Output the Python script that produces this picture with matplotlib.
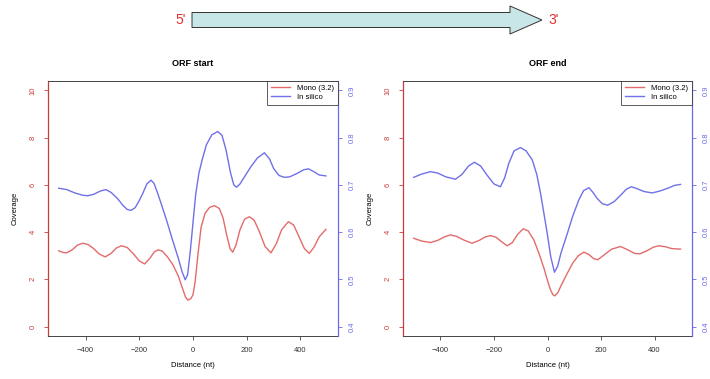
import matplotlib.pyplot as plt
import matplotlib.patches as mpatches

plt.rcParams['font.family'] = ['Liberation Sans', 'DejaVu Sans']

# ORF start: Mono (3.2) coverage (left axis) and In silico (right axis)
start_mono_x = [-500, -485, -470, -450, -430, -410, -390, -370, -350, -327, -305, -285, -267, -245,
                -222, -200, -180, -160, -145, -131, -115, -95, -75, -55, -40, -28, -19, -8, 0, 8,
                18, 30, 45, 62, 80, 98, 112, 125, 138, 148, 160, 175, 192, 210, 228, 248, 268,
                290, 310, 330, 355, 375, 395, 415, 433, 450, 470, 495]
start_mono_y = [3.21, 3.14, 3.12, 3.25, 3.45, 3.53, 3.47, 3.30, 3.08, 2.95, 3.10, 3.33, 3.42, 3.35,
                3.08, 2.78, 2.65, 2.90, 3.15, 3.25, 3.20, 2.95, 2.62, 2.15, 1.65, 1.25, 1.12, 1.18,
                1.35, 1.9, 3.0, 4.2, 4.8, 5.05, 5.12, 5.0, 4.6, 3.9, 3.3, 3.15, 3.45, 4.1, 4.55,
                4.65, 4.5, 4.0, 3.4, 3.12, 3.5, 4.1, 4.44, 4.3, 3.8, 3.3, 3.1, 3.35, 3.8, 4.12]
start_sil_x = [-500, -470, -440, -410, -392, -370, -345, -324, -305, -281, -260, -245, -231, -215,
               -200, -187, -172, -156, -145, -132, -119, -100, -76, -55, -40, -29, -20, -10, 0, 10,
               22, 35, 50, 70, 92, 108, 123, 140, 152, 162, 175, 195, 216, 240, 266, 285, 300,
               320, 340, 360, 390, 412, 430, 450, 470, 495]
start_sil_y = [0.693, 0.690, 0.683, 0.678, 0.677, 0.680, 0.687, 0.690, 0.684, 0.671, 0.656, 0.648,
               0.646, 0.652, 0.667, 0.682, 0.702, 0.710, 0.703, 0.683, 0.661, 0.628, 0.583, 0.545,
               0.515, 0.499, 0.510, 0.560, 0.620, 0.680, 0.725, 0.755, 0.785, 0.806, 0.813, 0.805,
               0.774, 0.725, 0.700, 0.695, 0.702, 0.720, 0.739, 0.757, 0.768, 0.755, 0.735, 0.720,
               0.716, 0.717, 0.725, 0.732, 0.734, 0.728, 0.721, 0.719]

# ORF end
end_mono_x = [-500, -470, -437, -410, -385, -363, -340, -310, -282, -255, -232, -213, -192, -170,
              -151, -132, -112, -91, -72, -51, -32, -14, 0, 11, 20, 27, 38, 50, 74, 95, 115, 136,
              155, 172, 188, 210, 240, 273, 300, 325, 345, 370, 395, 416, 440, 465, 497]
end_mono_y = [3.74, 3.62, 3.56, 3.65, 3.80, 3.88, 3.82, 3.65, 3.53, 3.65, 3.80, 3.85, 3.78, 3.58,
              3.42, 3.55, 3.90, 4.14, 4.05, 3.67, 3.10, 2.50, 1.95, 1.56, 1.35, 1.30, 1.42, 1.72,
              2.26, 2.70, 3.00, 3.15, 3.05, 2.88, 2.83, 3.02, 3.28, 3.39, 3.25, 3.10, 3.08, 3.20,
              3.36, 3.42, 3.38, 3.30, 3.28]
end_sil_x = [-500, -470, -437, -410, -380, -344, -320, -295, -273, -250, -225, -200, -176, -160,
             -145, -125, -101, -80, -57, -40, -26, -12, 1, 12, 26, 38, 50, 74, 95, 117, 135, 155,
             170, 186, 205, 225, 250, 273, 295, 313, 335, 360, 391, 420, 450, 475, 497]
end_sil_y = [0.716, 0.723, 0.728, 0.725, 0.717, 0.712, 0.722, 0.740, 0.748, 0.740, 0.720, 0.702,
             0.696, 0.715, 0.745, 0.772, 0.779, 0.772, 0.753, 0.722, 0.682, 0.635, 0.590, 0.548,
             0.515, 0.528, 0.555, 0.597, 0.635, 0.668, 0.688, 0.694, 0.684, 0.671, 0.660, 0.657,
             0.665, 0.678, 0.691, 0.696, 0.692, 0.686, 0.683, 0.687, 0.693, 0.699, 0.701]

panels = [('ORF start', start_mono_x, start_mono_y, start_sil_x, start_sil_y),
          ('ORF end', end_mono_x, end_mono_y, end_sil_x, end_sil_y)]

red = '#E36B6B'
blue = '#7070E8'
red_ax = '#C83C3C'
blue_ax = '#6A6AE8'

W, H = 710, 379
fig = plt.figure(figsize=(W / 100, H / 100), dpi=100)

boxes = [(48, 338), (403, 692)]
for (title, mx, my, sx, sy), (x0, x1) in zip(panels, boxes):
    ax = fig.add_axes([x0 / W, 1 - 336 / H, (x1 - x0) / W, (336 - 81) / H])
    ax2 = ax.twinx()
    ax.set_xlim(-540, 540)
    ax.set_ylim(-0.4, 10.4)
    ax2.set_ylim(0.38, 0.92)

    l1, = ax.plot(mx, my, color=red, lw=1.0, label='Mono (3.2)')
    l2, = ax2.plot(sx, sy, color=blue, lw=1.0, label='In silico')

    for s in ['top', 'bottom']:
        ax.spines[s].set_color('#444444')
        ax.spines[s].set_linewidth(0.7)
    ax.spines['left'].set_color(red_ax)
    ax.spines['left'].set_linewidth(0.9)
    ax.spines['right'].set_visible(False)
    for s in ['top', 'bottom', 'left']:
        ax2.spines[s].set_visible(False)
    ax2.spines['right'].set_color(blue_ax)
    ax2.spines['right'].set_linewidth(0.9)

    ax.set_xticks([-400, -200, 0, 200, 400])
    ax.set_xticklabels(['\u2212400', '\u2212200', '0', '200', '400'])
    ax.tick_params(axis='x', labelsize=5.5, length=3, width=0.6, color='#444444',
                   labelcolor='#333333', pad=5)
    ax.set_yticks([0, 2, 4, 6, 8, 10])
    ax.tick_params(axis='y', labelsize=5.5, length=3, width=0.6, color=red_ax,
                   labelcolor=red_ax, pad=5)
    for t in ax.get_yticklabels():
        t.set_rotation(90)
        t.set_va('center')
    ax2.set_yticks([0.4, 0.5, 0.6, 0.7, 0.8, 0.9])
    ax2.tick_params(axis='y', labelsize=5.5, length=3, width=0.6, color=blue_ax,
                    labelcolor=blue_ax, pad=5)
    for t in ax2.get_yticklabels():
        t.set_rotation(90)
        t.set_va('center')

    ax.set_xlabel('Distance (nt)', fontsize=5.5, labelpad=6)
    ax.set_ylabel('Coverage', fontsize=5.5, labelpad=8)
    ax.set_title(title, fontsize=6.5, fontweight='bold', pad=11)

    leg = ax2.legend([l1, l2], ['Mono (3.2)', 'In silico'], loc='upper right',
                     fontsize=5.5, frameon=True, fancybox=False, borderaxespad=0,
                     handlelength=2.4, handletextpad=1.0, borderpad=0.5,
                     labelspacing=0.2)
    leg.get_frame().set_edgecolor('#333333')
    leg.get_frame().set_linewidth(0.7)

# 5' -> 3' arrow on top
arrow = mpatches.FancyArrow(192 / W, 1 - 20 / H, (542 - 192) / W, 0,
                            width=15 / H, head_width=28 / H, head_length=32 / W,
                            length_includes_head=True, transform=fig.transFigure,
                            facecolor='#C8E6E8', edgecolor='#333333', lw=0.7)
fig.patches.append(arrow)
fig.text(181 / W, 1 - 20 / H, "5'", color='#E03030', fontsize=10, ha='center', va='center')
fig.text(554 / W, 1 - 20 / H, "3'", color='#E03030', fontsize=10, ha='center', va='center')

fig.savefig('out.png', dpi=100)
